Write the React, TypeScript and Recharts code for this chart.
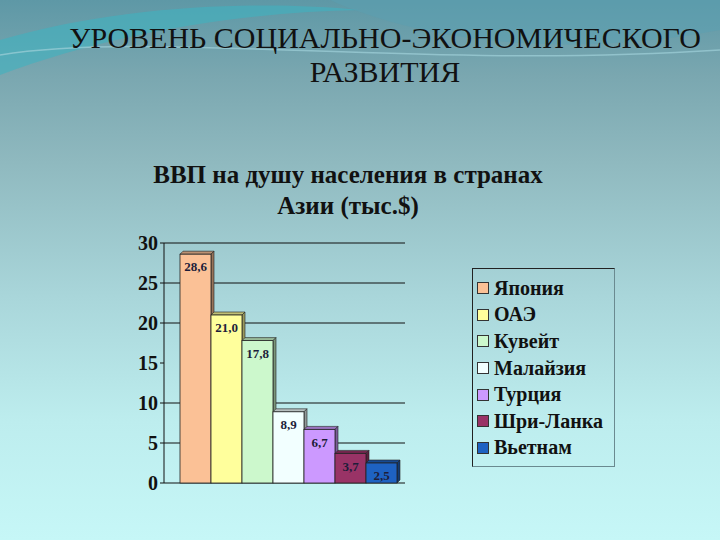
import React from 'react';
import { BarChart, Bar, XAxis, YAxis, CartesianGrid, Legend, LabelList } from 'recharts';

const countries = ['Япония', 'ОАЭ', 'Кувейт', 'Малайзия', 'Турция', 'Шри-Ланка', 'Вьетнам'];
const gdpValues = [28.6, 21.0, 17.8, 8.9, 6.7, 3.7, 2.5];
const barColors = ['#FBC196', '#FFFF9C', '#CCF8CC', '#F2FFFF', '#CC99FF', '#993366', '#1E62C2'];
const yTicks = [0, 5, 10, 15, 20, 25, 30];
const gridValues = [0, 5, 10, 20, 25, 30];

const row: Record<string, number | string> = { name: '' };
countries.forEach((c, i) => {
  row[c] = gdpValues[i];
});
const data = [row];

const serif = '"Liberation Serif", "DejaVu Serif", serif';

function darken(hex: string, f: number) {
  const n = parseInt(hex.slice(1), 16);
  const r = Math.round(((n >> 16) & 255) * f);
  const g = Math.round(((n >> 8) & 255) * f);
  const b = Math.round((n & 255) * f);
  return `rgb(${r},${g},${b})`;
}

const Bar3D = (props: any) => {
  const { x, y, width, height, fill } = props;
  if (!height || height <= 0) return null;
  const d = 3;
  return (
    <g>
      <polygon
        points={`${x},${y} ${x + d},${y - d} ${x + width + d},${y - d} ${x + width},${y}`}
        fill={darken(fill, 0.75)}
        stroke="#222"
        strokeWidth={0.6}
      />
      <polygon
        points={`${x + width},${y} ${x + width + d},${y - d} ${x + width + d},${y + height - d} ${x + width},${y + height}`}
        fill={darken(fill, 0.6)}
        stroke="#222"
        strokeWidth={0.6}
      />
      <rect x={x} y={y} width={width} height={height} fill={fill} stroke="#222" strokeWidth={0.8} />
    </g>
  );
};

const fmt = (v: any) => Number(v).toFixed(1).replace('.', ',');

const LegendContent = (props: any) => {
  const payload = [...(props.payload || [])].sort(
    (a: any, b: any) => countries.indexOf(a.value) - countries.indexOf(b.value)
  );
  return (
    <div
      style={{
        width: 143,
        height: 199,
        borderTop: '1px solid #222',
        borderLeft: '1px solid #222',
        borderRight: '1px solid #6a8a90',
        borderBottom: '1px solid #6a8a90',
        boxSizing: 'border-box',
        padding: '6px 0 0 4px',
        fontFamily: serif,
      }}
    >
      {payload.map((p: any) => (
        <div key={p.value} style={{ display: 'flex', alignItems: 'center', height: 26.6 }}>
          <span
            style={{
              display: 'inline-block',
              width: 10,
              height: 10,
              background: p.color,
              border: '1px solid #333',
              marginRight: 5,
              flexShrink: 0,
            }}
          />
          <span style={{ fontSize: 20, fontWeight: 700, color: '#111', whiteSpace: 'nowrap' }}>{p.value}</span>
        </div>
      ))}
    </div>
  );
};

export default function App() {
  return (
    <div
      style={{
        position: 'absolute',
        left: 0,
        top: 0,
        width: 720,
        height: 540,
        overflow: 'hidden',
        background:
          'linear-gradient(180deg, #5E98A6 0%, #7AA7B0 14%, #8FB9BF 30%, #A9D6DA 55%, #BDEDEE 78%, #C6F7F7 100%)',
      }}
    >
      <svg width={720} height={120} style={{ position: 'absolute', left: 0, top: 0 }}>
        <path d="M0,40 C120,5 260,0 360,10 C250,12 120,30 0,75 Z" fill="#3FB3C0" opacity={0.6} />
        <path d="M330,0 C420,40 560,60 720,30 L720,0 Z" fill="#5AA0B2" opacity={0.5} />
        <path d="M0,55 C150,30 420,70 720,50" stroke="#9FD0D8" strokeWidth={1.5} fill="none" opacity={0.7} />
      </svg>
      <div
        style={{
          position: 'absolute',
          left: 0,
          top: 21,
          width: 770,
          textAlign: 'center',
          fontFamily: serif,
          fontSize: 30,
          lineHeight: '34px',
          color: '#111',
        }}
      >
        УРОВЕНЬ СОЦИАЛЬНО-ЭКОНОМИЧЕСКОГО
        <br />
        РАЗВИТИЯ
      </div>
      <div
        style={{
          position: 'absolute',
          left: 148,
          top: 159,
          width: 400,
          textAlign: 'center',
          fontFamily: serif,
          fontSize: 25,
          fontWeight: 700,
          lineHeight: '31px',
          color: '#111',
          whiteSpace: 'nowrap',
        }}
      >
        ВВП на душу населения в странах
        <br />
        Азии (тыс.$)
      </div>
      <div style={{ position: 'absolute', left: 0, top: 0 }}>
        <BarChart
          width={720}
          height={540}
          data={data}
          margin={{ top: 243, right: 315, bottom: 57, left: 120 }}
          barCategoryGap={0}
          barGap={0}
        >
          <CartesianGrid vertical={false} horizontalValues={gridValues} stroke="#111" strokeWidth={1} />
          <XAxis
            dataKey="name"
            tick={false}
            height={0}
            axisLine={{ stroke: '#111' }}
            tickLine={false}
            padding={{ left: 16, right: 8 }}
          />
          <YAxis
            domain={[0, 30]}
            ticks={yTicks}
            width={44}
            interval={0}
            axisLine={{ stroke: '#111' }}
            tickLine={{ stroke: '#111' }}
            tickSize={4}
            tick={{ fontFamily: serif, fontSize: 20, fontWeight: 700, fill: '#111' }}
          />
          <YAxis
            yAxisId="back"
            orientation="right"
            domain={[0, 30]}
            width={0}
            tick={false}
            tickLine={false}
            axisLine={{ stroke: '#111' }}
          />
          <Legend
            layout="vertical"
            align="center"
            verticalAlign="middle"
            content={<LegendContent />}
            wrapperStyle={{ left: 472, top: 268, width: 143, height: 199 }}
          />
          {countries.map((c, i) => (
            <Bar
              key={c}
              dataKey={c}
              fill={barColors[i]}
              shape={<Bar3D />}
              isAnimationActive={false}
            >
              <LabelList
                dataKey={c}
                position="insideTop"
                offset={8}
                formatter={fmt}
                style={{ fontFamily: serif, fontSize: 13, fontWeight: 700, fill: '#1d1d3a' }}
              />
            </Bar>
          ))}
        </BarChart>
      </div>
    </div>
  );
}
